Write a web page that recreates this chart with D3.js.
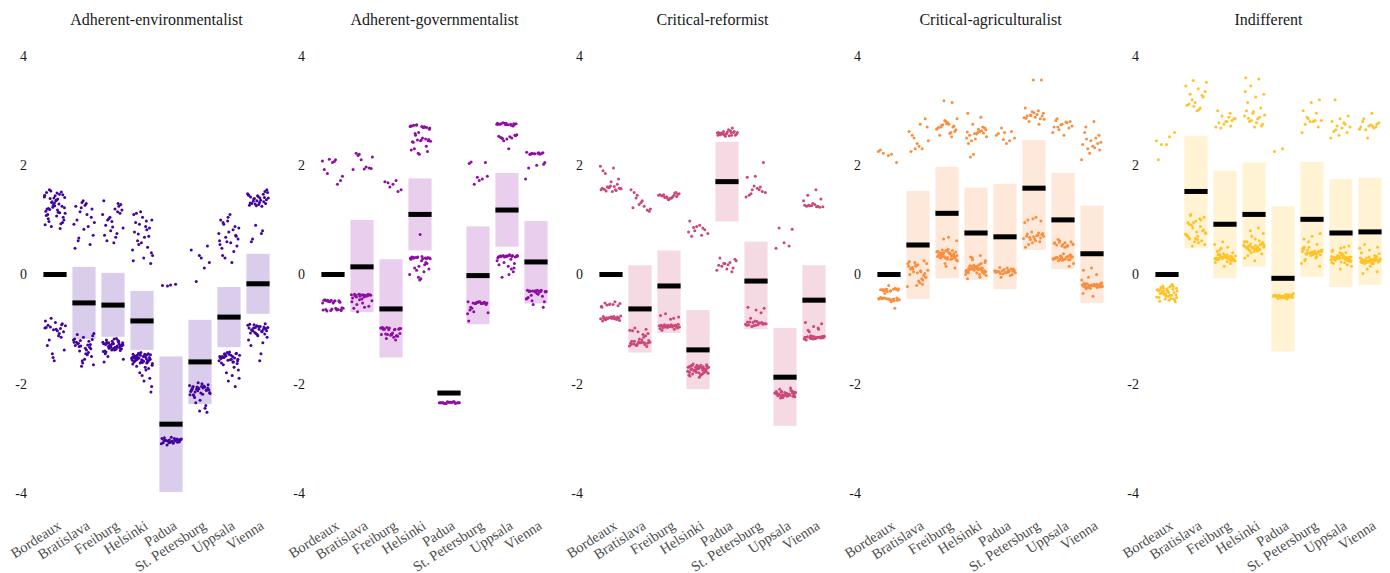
<!DOCTYPE html>
<html>
<head>
<meta charset="utf-8">
<script src="https://cdn.jsdelivr.net/npm/d3@7"></script>
<style>
  body { margin: 0; background: #fff; }
  svg text { font-family: "Liberation Serif", "Times New Roman", serif; }
</style>
</head>
<body>
<svg id="chart" width="1390" height="573"></svg>
<script>
/* DATA */
const panels = ["Adherent-environmentalist", "Adherent-governmentalist", "Critical-reformist", "Critical-agriculturalist", "Indifferent"];
const cities = ["Bordeaux", "Bratislava", "Freiburg", "Helsinki", "Padua", "St. Petersburg", "Uppsala", "Vienna"];
const yTicks = [-4, -2, 0, 2, 4];
const colors = ["#41049d", "#8f0da4", "#cc4778", "#f98e3f", "#fdc328"];

// means per city (Bordeaux is the reference)
const envMeans = [0, -0.52, -0.56, -0.85, -2.74, -1.6, -0.78, -0.17];
const envLow = [null, -1.18, -1.14, -1.38, -3.98, -2.37, -1.33, -0.72];
const envHigh = [null, 0.14, 0.03, -0.30, -1.5, -0.83, -0.23, 0.38];

const govMeans = [0, 0.14, -0.63, 1.1, -2.17, -0.02, 1.18, 0.23];
const govLow = [null, -0.69, -1.52, 0.44, -2.19, -0.91, 0.51, -0.53];
const govHigh = [null, 1.0, 0.28, 1.76, -2.15, 0.88, 1.86, 0.98];

const refMeans = [0, -0.63, -0.21, -1.38, 1.7, -0.12, -1.88, -0.47];
const refLow = [null, -1.43, -1.07, -2.1, 0.97, -1.0, -2.77, -1.2];
const refHigh = [null, 0.17, 0.44, -0.65, 2.43, 0.6, -0.98, 0.17];

const agrMeans = [0, 0.54, 1.12, 0.76, 0.69, 1.58, 1.0, 0.38];
const agrLow = [null, -0.45, -0.07, -0.1, -0.27, 0.45, 0.1, -0.52];
const agrHigh = [null, 1.53, 1.97, 1.59, 1.66, 2.46, 1.86, 1.26];

const indMeans = [0, 1.52, 0.92, 1.1, -0.07, 1.01, 0.76, 0.78];
const indLow = [null, 0.48, -0.07, 0.14, -1.41, -0.04, -0.23, -0.19];
const indHigh = [null, 2.54, 1.9, 2.05, 1.25, 2.06, 1.75, 1.77];

// individual scores, one array per city
const envPoints = [
  [1.42,1.18,1.55,0.95,1.31,1.08,1.47,0.88,1.22,1.36,1.02,1.51,1.27,0.91,1.14,1.39,1.05,1.44,1.2,0.84,1.33,1.12,1.49,0.97,1.25,1.4,1.16,1.29,1.53,1.0,1.35,1.1,0.93,1.23,1.45,
   1.38,1.19,1.46,1.26,1.5,1.13,1.32,1.41,1.07,1.21,
   -0.92,-1.01,-0.85,-1.12,-0.96,-1.05,-0.88,-1.3,-0.99,-1.45,-0.94,-1.03,-1.2,-0.9,-1.58,-0.97,-1.08,-0.8,-1.38,-1.0,-0.93,-1.15,-1.52,-0.98],
  [1.22,0.95,1.3,0.62,1.05,1.35,0.48,0.88,1.15,0.72,1.27,1.0,0.55,1.32,0.92,1.1,0.67,1.2,0.83,1.25,
   -1.22,-1.31,-1.08,-1.45,-1.27,-1.36,-1.62,-1.18,-1.29,-1.4,-1.12,-1.55,-1.24,-1.33,-1.68,-1.2,-1.38,-1.26,-1.5,-1.15,-1.3,-1.43,-1.21,-1.65,-1.35,-1.1,-1.28,-1.58,-1.24,-1.47,-1.32,-1.19],
  [1.3,1.05,0.85,1.2,0.62,1.12,0.97,1.35,0.75,1.02,1.18,0.58,0.9,1.25,0.8,1.1,0.68,1.0,1.28,0.87,0.72,1.15,
   -1.3,-1.25,-1.38,-1.2,-1.34,-1.28,-1.41,-1.17,-1.32,-1.36,-1.27,-1.45,-1.23,-1.3,-1.55,-1.33,-1.26,-1.39,-1.22,-1.6,-1.31,-1.35,-1.29,-1.18,-1.42,-1.27,-1.33,-1.24,-1.37,-1.5,-1.3,-1.26,-1.4,-1.21,-1.34,
   -1.29,-1.36,-1.24,-1.31,-1.38,-1.27,-1.33,-1.25,-1.3,-1.35,-1.28,-1.22],
  [1.1,0.82,0.55,1.0,0.3,0.95,0.7,1.15,0.45,0.88,0.62,0.2,1.05,0.78,0.5,0.92,0.35,0.68,1.12,0.85,0.58,0.25,0.98,0.74,0.4,
   -1.5,-1.58,-1.45,-1.62,-1.52,-1.7,-1.48,-1.55,-1.85,-1.6,-1.47,-1.53,-1.66,-1.95,-1.5,-1.57,-1.43,-1.64,-1.75,-1.52,-2.15,-1.58,-1.49,-1.6,-1.8,-1.54,-1.46,-1.68,-1.9,-1.56,-1.51,-1.62,-1.44,-2.05,-1.59,-1.53,-1.72,-1.48,-1.57,
   -1.5,-1.55,-1.47,-1.61,-1.53,-1.58,-1.45,-1.63,-1.49,-1.56,-1.52,-1.6,-1.46,-1.54],
  [-0.19,-0.2,-0.18,-0.21,
   -3.02,-3.05,-2.99,-3.07,-3.03,-3.1,-3.0,-3.04,-3.06,-2.98,-3.08,-3.02,-3.05,-3.01,-3.09,-3.04,-3.03,-3.07,-3.0,-3.05,-3.12,-3.02,-3.06,-3.04,-3.01,-3.08],
  [0.52,0.35,0.45,0.12,-0.13,0.22,0.3,
   -2.05,-2.12,-1.98,-2.2,-2.08,-2.15,-2.02,-2.3,-2.1,-2.45,-2.06,-2.18,-2.0,-2.22,-2.52,-2.09,-2.14,-2.04,-2.35,-2.11,-2.17,-2.07,-2.4,-2.13,-2.03,-2.19,-2.25,-2.08,-2.5,-2.12,-2.06,
   -2.1,-2.16,-2.05,-2.2,-2.12,-2.08],
  [0.95,0.7,1.05,0.55,0.82,0.3,0.65,1.1,0.48,0.88,0.6,0.75,0.22,0.92,0.52,0.78,1.0,0.42,0.68,0.85,0.58,0.35,0.72,0.98,0.62,
   -1.5,-1.45,-1.58,-1.42,-1.62,-1.53,-1.8,-1.48,-1.55,-1.65,-1.44,-1.95,-1.52,-1.6,-1.47,-1.75,-1.56,-1.5,-2.05,-1.43,-1.58,-1.85,-1.52,-1.63,-1.46,-1.54,-1.7,-1.49,-1.9,
   -1.48,-1.52,-1.45,-1.57,-1.5,-1.6,-1.47,-1.55],
  [1.4,1.3,1.52,1.35,1.45,1.25,1.38,1.55,1.28,1.42,1.33,0.9,1.48,1.36,0.65,1.3,1.44,1.27,0.8,1.39,1.5,1.32,0.6,1.41,1.26,1.46,0.75,1.34,
   1.37,1.43,1.31,1.47,1.29,1.4,
   -0.95,-1.02,-0.9,-1.1,-0.98,-1.05,-0.92,-1.15,-1.0,-1.3,-0.96,-1.08,-0.93,-1.45,-1.03,-0.99,-1.12,-0.91,-1.25,-1.06,-0.97,-1.58,-1.01,-1.09,-0.94,-1.2,-1.04,
   -0.98,-1.03,-0.95,-1.07,-1.0,-0.97]
];

const govPoints = [
  [2.08,2.1,1.85,1.72,2.05,1.92,1.65,2.11,1.8,2.07,
   -0.48,-0.5,-0.47,-0.65,-0.63,-0.49,-0.66,-0.52,-0.46,-0.64,-0.5,-0.62,-0.48,-0.67,-0.51,-0.63,-0.47,-0.65,-0.49,-0.61,-0.5,-0.64,-0.48,-0.66,-0.52,-0.62,-0.47,-0.65],
  [2.2,2.15,1.93,2.22,1.95,2.1,1.92,1.97,2.18,1.94,
   -0.37,-0.39,-0.36,-0.4,-0.5,-0.38,-0.55,-0.37,-0.45,-0.62,-0.39,-0.36,-0.48,-0.41,-0.38,-0.58,-0.37,-0.43,-0.4,-0.68,-0.38,-0.52,-0.36,-0.39,-0.46,-0.37,-0.6,-0.41],
  [1.72,1.68,1.55,1.65,1.7,1.52,1.6,
   -0.98,-1.0,-0.97,-1.08,-1.1,-0.99,-1.12,-1.01,-0.98,-1.15,-1.09,-1.0,-1.11,-0.97,-1.2,-1.1,-0.99,-1.07,-1.0,-1.13,-0.98,-1.1,-1.01,-1.17,-0.99,-1.09,-1.0,-1.12],
  [2.72,2.7,2.74,2.68,2.71,2.73,2.69,2.6,2.72,2.7,2.55,2.47,2.45,2.43,2.48,2.46,2.44,2.5,2.3,2.25,2.2,2.28,2.7,2.73,2.66,2.46,2.42,2.35,2.22,2.71,2.69,2.58,2.45,0.73,
   0.32,0.3,0.31,0.29,0.33,0.3,0.2,0.15,0.28,0.05,0.31,0.1,-0.08,0.3,0.22,0.32,0.0,0.29,0.12,0.31,-0.1,0.3,0.18,0.08,0.3,0.25,0.31,0.29,-0.05,0.3],
  [-2.34,-2.35,-2.33,-2.36,-2.35,-2.34,-2.35,-2.36,-2.33,-2.35,-2.34,-2.36,-2.35,-2.34,-2.35,-2.33,-2.36,-2.35,-2.34,-2.35],
  [2.05,1.78,2.03,1.75,1.65,1.8,1.72,2.06,
   -0.51,-0.52,-0.5,-0.53,-0.52,-0.55,-0.51,-0.65,-0.52,-0.53,-0.7,-0.5,-0.62,-0.52,-0.51,-0.85,-0.53,-0.68,-0.52,-0.5,-0.6,-0.52,-0.53,-0.72],
  [2.76,2.74,2.77,2.75,2.73,2.78,2.76,2.74,2.75,2.72,2.77,2.75,2.52,2.5,2.55,2.48,2.53,2.5,2.45,2.56,2.3,2.51,2.76,2.74,2.77,2.75,2.49,2.54,
   0.34,0.33,0.35,0.32,0.34,0.36,0.33,0.2,0.34,0.32,0.1,0.35,0.33,0.15,0.34,0.05,0.33,0.25,0.35,-0.05,0.32,0.34,0.18,0.33,0.22,0.35,0.0,0.34,0.12,0.33,0.3,0.28],
  [2.22,2.2,2.23,2.21,2.24,2.2,2.22,2.05,2.0,1.95,2.22,2.21,1.75,2.23,2.2,2.02,
   -0.3,-0.29,-0.31,-0.3,-0.32,-0.29,-0.31,-0.4,-0.3,-0.45,-0.32,-0.38,-0.5,-0.3,-0.42,-0.29,-0.55,-0.31,-0.36,-0.3,-0.6,-0.32,-0.44,-0.3,-0.48,-0.31,-0.35,-0.3]
];

const refPoints = [
  [1.98,1.95,1.85,1.75,1.62,1.58,1.55,1.6,1.57,1.52,1.56,1.65,1.59,1.55,1.61,1.53,1.58,1.7,1.9,1.54,1.6,1.57,
   -0.55,-0.52,-0.57,-0.54,-0.6,-0.5,-0.56,-0.53,-0.78,-0.8,-0.82,-0.79,-0.81,-0.77,-0.83,-0.8,-0.78,-0.85,-0.79,-0.81,-0.76,-0.8,-0.82,-0.78,-0.55,-0.58,-0.81,-0.79,-0.84,-0.8,-0.77,-0.82],
  [1.45,1.2,1.35,1.5,1.18,1.28,1.55,1.25,1.4,1.16,1.32,1.22,
   -1.0,-1.05,-1.02,-1.1,-0.98,-1.08,-1.25,-1.22,-1.28,-1.3,-1.24,-1.2,-1.27,-1.32,-1.23,-1.26,-1.15,-1.29,-1.21,-1.25,-1.03,-1.12,-1.27,-1.31,-1.24,-1.22,-1.26,-1.18,-1.28,-1.25],
  [1.45,1.42,1.48,1.4,1.44,1.5,1.38,1.46,1.43,1.41,1.47,1.39,1.44,1.49,1.42,1.45,1.4,1.46,1.43,1.37,
   -0.75,-0.8,-0.72,-0.78,-0.82,-0.95,-0.93,-0.97,-0.94,-0.96,-0.92,-0.98,-0.95,-0.93,-1.0,-0.94,-0.96,-0.92,-0.97,-0.95,-0.93,-0.99,-0.94,-0.96,-0.91,-0.95,-1.02,-0.94],
  [0.98,0.85,0.8,0.75,0.9,0.7,0.82,0.88,0.78,0.72,0.86,
   -1.65,-1.72,-1.68,-1.8,-1.75,-1.7,-1.85,-1.66,-1.78,-1.73,-1.69,-1.82,-1.76,-1.71,-1.88,-1.67,-1.74,-1.79,-1.7,-1.83,-1.64,-1.77,-1.72,-1.86,-1.69,-1.75,-1.81,-1.7,-1.73,-1.78,-1.66,-1.84,-1.71,-1.76,-1.68,-1.8,-1.74,-1.72,
   -1.7,-1.77,-1.66,-1.82,-1.73,-1.68,-1.79,-1.75],
  [2.58,2.6,2.55,2.62,2.57,2.65,2.56,2.6,2.53,2.59,2.63,2.57,2.55,2.61,2.58,2.68,2.56,2.6,2.54,2.59,2.62,2.57,2.55,2.6,2.58,
   0.25,0.18,0.3,0.12,0.2,0.08,0.22,0.15,0.28,0.1,0.17,0.05,0.2],
  [2.05,1.8,1.78,1.6,1.55,1.5,1.58,1.45,1.52,1.62,1.42,1.55,1.48,
   -0.62,-0.65,-0.6,-0.7,-0.88,-0.9,-0.92,-0.87,-0.91,-0.85,-0.93,-0.89,-0.95,-0.9,-0.86,-0.92,-0.88,-0.94,-0.91,-0.89,-0.8,-0.9,-0.93,-0.87],
  [0.85,0.83,0.58,0.48,0.52,
   -2.15,-2.2,-2.18,-2.22,-2.12,-2.25,-2.17,-2.2,-2.1,-2.23,-2.16,-2.19,-2.21,-2.14,-2.24,-2.18,-2.2,-2.13,-2.22,-2.17,-2.19,-2.26,-2.15,-2.21,-2.18,-2.08,-2.2,-2.16,-2.23,-2.19,
   -2.17,-2.21,-2.14,-2.19,-2.23,-2.16],
  [1.55,1.45,1.38,1.3,1.27,1.25,1.26,1.24,1.28,1.25,1.23,1.26,1.35,1.24,1.27,
   -0.9,-0.95,-0.88,-1.0,-1.12,-1.15,-1.17,-1.14,-1.16,-1.13,-1.18,-1.15,-1.05,-1.16,-1.14,-1.2,-1.15,-1.17,-1.13,-1.16,-1.02,-1.14,-1.18,-1.15,-0.98,-1.16,-1.13,-1.17]
];

const agrPoints = [
  [2.25,2.2,2.22,2.05,2.18,2.28,
   -0.27,-0.29,-0.26,-0.3,-0.28,-0.25,-0.31,-0.44,-0.46,-0.43,-0.47,-0.45,-0.42,-0.48,-0.44,-0.46,-0.5,-0.28,-0.27,-0.45,-0.43,-0.47,-0.35,-0.29,-0.46,-0.44,-0.62,-0.27,-0.45,-0.48,-0.3,-0.43,-0.2,
   -0.28,-0.45,-0.27,-0.46,-0.3,-0.44],
  [2.3,2.45,2.75,2.55,2.85,2.4,2.62,2.3,2.5,2.7,2.35,2.25,
   0.25,0.15,0.2,0.05,0.1,-0.05,0.18,0.0,-0.1,0.22,0.08,-0.15,0.12,0.02,-0.2,0.15,-0.08,0.05,0.2,-0.12,0.1,-0.02,0.17,-0.22,0.07,0.13,-0.05,0.03,0.24,-0.18],
  [3.15,3.18,2.85,2.75,2.7,2.72,2.8,2.68,2.6,2.74,2.65,2.78,2.55,2.7,2.82,2.66,2.58,2.73,2.62,2.76,2.69,2.52,
   0.65,0.62,0.68,0.4,0.35,0.3,0.42,0.38,0.45,0.32,0.28,0.36,0.44,0.33,0.25,0.4,0.37,0.3,0.15,0.42,0.34,0.39,0.27,0.46,0.31,0.35,0.2,0.41,0.38,0.33,0.12,0.43,0.36,0.29,0.4,
   0.35,0.4,0.3,0.38,0.44,0.33,0.28,0.36,0.41,0.31],
  [2.95,2.88,2.75,2.65,2.6,2.55,2.7,2.58,2.5,2.62,2.45,2.68,2.57,2.4,2.63,2.2,2.52,2.66,2.15,2.59,2.48,2.61,
   0.35,0.3,0.25,0.15,0.1,0.12,0.08,0.05,0.18,0.1,0.02,0.14,0.06,0.2,0.11,-0.02,0.09,0.16,0.04,0.13,0.07,-0.05,0.1,0.22,0.03,0.12,0.08,0.17,0.0,0.11,0.32,0.06,0.14,-0.08,0.09,0.27,0.05,0.1,
   0.1,0.05,0.13,0.08,0.0,0.15,0.07,0.11,0.03,0.12],
  [2.6,2.55,2.45,2.68,2.5,2.4,2.58,2.62,2.47,
   0.05,0.08,0.02,0.1,0.04,0.06,-0.02,0.07,0.03,0.12,0.05,0.0,0.09,0.04,0.06,-0.05,0.08,0.03,0.05,0.1,0.01,0.07,0.04,0.13,0.06],
  [3.56,3.56,3.05,3.0,2.92,2.95,2.88,2.9,2.85,2.98,2.87,2.93,2.8,2.9,2.96,2.86,2.75,2.91,2.84,
   1.05,1.0,0.98,1.02,0.95,0.72,0.68,0.75,0.65,0.7,0.6,0.78,0.66,0.71,0.55,0.73,0.69,0.5,0.76,0.64,0.7,0.62,0.74,0.67,0.58],
  [2.85,2.8,2.75,2.7,2.78,2.65,2.72,2.55,2.82,2.68,2.74,2.6,2.79,2.7,
   0.6,0.55,0.58,0.52,0.62,0.56,0.5,0.54,0.35,0.3,0.28,0.32,0.25,0.33,0.38,0.3,0.27,0.34,0.2,0.29,0.31,0.36,0.26,0.57,0.53,0.59,0.32,0.28,0.3,0.15,0.33,0.29,0.51,0.64,0.31,0.27,
   0.3,0.33,0.28,0.55,0.58,0.31,0.27,0.52],
  [2.8,2.7,2.55,2.45,2.38,2.5,2.3,2.42,2.35,2.6,2.4,2.22,2.1,2.32,2.48,2.28,
   0.12,0.08,0.0,-0.05,-0.15,-0.2,-0.18,-0.22,-0.25,-0.19,-0.21,-0.17,-0.23,-0.2,-0.16,-0.24,-0.2,-0.22,-0.18,-0.26,-0.21,-0.19,-0.35,-0.2,-0.23,-0.17,-0.4,-0.21,-0.19,-0.22,-0.1,-0.2,-0.24,-0.18,
   -0.2,-0.22,-0.18,-0.24,-0.21,-0.19,-0.23,-0.2]
];

const indPoints = [
  [2.45,2.52,2.38,2.6,2.38,2.1,
   -0.2,-0.3,-0.25,-0.4,-0.35,-0.22,-0.45,-0.28,-0.38,-0.32,-0.5,-0.26,-0.42,-0.18,-0.36,-0.3,-0.47,-0.24,-0.33,-0.4,-0.28,-0.44,-0.21,-0.37,-0.31,-0.49,-0.27,-0.35,-0.41,-0.23,-0.34,-0.46,-0.29,
   -0.3,-0.38,-0.25,-0.42,-0.33,-0.28,-0.45,-0.36],
  [3.55,3.52,3.4,3.3,3.25,3.15,3.1,3.05,3.2,3.35,3.0,3.12,3.28,3.08,3.45,3.02,
   1.1,1.05,0.98,0.95,1.0,0.85,0.75,0.7,0.65,0.8,0.6,0.72,1.02,0.9,0.55,0.78,0.68,0.62,0.95,0.74,0.58,1.08,0.82,0.66,0.71,0.88,0.52,0.77,0.64,0.92],
  [2.95,2.9,2.85,2.8,2.78,2.82,2.75,2.7,2.88,2.68,2.85,2.8,3.0,2.72,
   0.6,0.55,0.5,0.45,0.4,0.35,0.3,0.28,0.32,0.25,0.3,0.27,0.33,0.38,0.22,0.3,0.35,0.26,0.31,0.42,0.2,0.29,0.34,0.24,0.37,0.3,0.15,0.28,0.32,0.48,0.27,0.33,0.36,0.25,0.31,0.29,
   0.3,0.32,0.28,0.35,0.27,0.33,0.3,0.25,0.36,0.29],
  [3.6,3.58,3.45,3.3,3.25,3.15,3.05,2.95,2.9,2.85,2.8,2.75,2.7,3.0,2.88,2.82,2.92,2.78,2.86,2.72,2.98,3.35,
   0.85,0.8,0.75,0.65,0.6,0.55,0.5,0.52,0.48,0.45,0.58,0.42,0.5,0.62,0.4,0.53,0.47,0.35,0.55,0.49,0.3,0.51,0.44,0.57,0.25,0.5,0.46,0.7,0.54,0.43,0.52,0.38,0.48,0.6,0.45,0.56,
   0.5,0.53,0.47,0.55,0.49,0.6,0.44,0.52,0.58,0.46],
  [2.3,2.25,
   -0.4,-0.38,-0.42,-0.39,-0.41,-0.37,-0.43,-0.4,-0.36,-0.44,-0.39,-0.41,-0.38,-0.42,-0.4,-0.35,-0.43,-0.39,-0.41,-0.4,-0.38,-0.45,-0.4,-0.37,-0.42],
  [3.2,3.15,3.0,2.95,2.85,2.82,2.8,2.75,2.7,2.8,2.6,2.82,2.88,
   0.75,0.7,0.65,0.55,0.5,0.45,0.4,0.38,0.42,0.35,0.48,0.3,0.4,0.44,0.36,0.25,0.41,0.39,0.2,0.43,0.37,0.15,0.4,0.46,0.33,0.6,0.42,0.38,0.28,0.41,
   0.4,0.42,0.38,0.45,0.36,0.41,0.5,0.39],
  [3.2,2.9,2.85,2.8,2.75,2.72,2.7,2.68,2.62,2.6,2.55,2.5,2.78,2.65,
   0.52,0.48,0.45,0.4,0.35,0.32,0.3,0.28,0.25,0.3,0.33,0.22,0.3,0.27,0.36,0.2,0.31,0.29,0.15,0.34,0.26,0.3,0.1,0.42,0.28,0.32,0.24,0.38,0.3,0.18,0.33,0.27,0.5,0.29,0.31,0.23,
   0.3,0.28,0.33,0.25,0.35,0.31,0.27,0.4,0.22,0.32],
  [2.95,2.85,2.75,2.72,2.7,2.68,2.65,2.78,2.74,2.8,2.7,2.5,2.66,2.72,
   0.55,0.5,0.45,0.4,0.35,0.3,0.25,0.28,0.22,0.27,0.24,0.3,0.2,0.26,0.23,0.15,0.28,0.25,0.1,0.29,0.21,0.26,0.05,0.32,0.24,0.27,0.22,0.38,0.25,0.02,0.3,0.23,0.48,0.26,0.2,
   0.25,0.27,0.22,0.3,0.24,0.28,0.2,0.26,0.33,0.23]
];

const allMeans = [envMeans, govMeans, refMeans, agrMeans, indMeans];
const allLow = [envLow, govLow, refLow, agrLow, indLow];
const allHigh = [envHigh, govHigh, refHigh, agrHigh, indHigh];
const allPoints = [envPoints, govPoints, refPoints, agrPoints, indPoints];

/* DRAWING */
const svg = d3.select("#chart");
const panelWidth = 278;

const x = d3.scaleBand()
  .domain(cities)
  .range([37.6, 275.4])
  .padding(0.2);

const y = d3.scaleLinear()
  .domain([-4, 4])
  .range([493, 56]);

const bw = x.bandwidth();

// spreads points across the band without randomness
function jitter(i, c) {
  let f = (i * 0.6180339887 + c * 0.37) % 1;
  return (f - 0.5) * (bw - 2);
}

panels.forEach(function(name, p) {
  let g = svg.append("g").attr("transform", "translate(" + (p * panelWidth) + ",0)");
  let color = colors[p];

  g.append("text")
    .attr("x", (x.range()[0] + x.range()[1]) / 2)
    .attr("y", 25)
    .attr("text-anchor", "middle")
    .style("font-size", "16px")
    .style("fill", "#1a1a1a")
    .text(name);

  // y axis labels only
  let yAxis = g.append("g")
    .attr("transform", "translate(27,0)")
    .call(d3.axisLeft(y).tickValues(yTicks).tickSize(0).tickPadding(0).tickFormat(d => String(d)));
  yAxis.select(".domain").remove();
  yAxis.selectAll("text")
    .style("font-size", "14px")
    .style("font-family", "'Liberation Serif', serif")
    .style("fill", "#1a1a1a");

  // x axis labels, tilted
  let xAxis = g.append("g")
    .attr("transform", "translate(0,515)")
    .call(d3.axisBottom(x).tickSize(0));
  xAxis.select(".domain").remove();
  xAxis.selectAll("text")
    .attr("x", 0).attr("y", 0).attr("dy", 0)
    .attr("text-anchor", "end")
    .attr("transform", "translate(7,13) rotate(-33)")
    .style("font-size", "14.5px")
    .style("font-family", "'Liberation Serif', serif")
    .style("fill", "#4d4d4d");

  // interval boxes
  cities.forEach(function(city, c) {
    let lo = allLow[p][c], hi = allHigh[p][c];
    if (lo === null) return;
    g.append("rect")
      .attr("x", x(city))
      .attr("y", y(hi))
      .attr("width", bw)
      .attr("height", y(lo) - y(hi))
      .style("fill", color)
      .style("fill-opacity", 0.2);
  });

  // points
  cities.forEach(function(city, c) {
    let pts = allPoints[p][c];
    g.selectAll(null)
      .data(pts)
      .enter()
      .append("circle")
      .attr("cx", (d, i) => x(city) + bw / 2 + jitter(i, c))
      .attr("cy", d => y(d))
      .attr("r", 1.5)
      .style("fill", color);
  });

  // means
  g.selectAll(null)
    .data(cities)
    .enter()
    .append("rect")
    .attr("x", d => x(d))
    .attr("y", (d, c) => y(allMeans[p][c]) - 2.5)
    .attr("width", bw)
    .attr("height", 5)
    .style("fill", "#000");
});
</script>
</body>
</html>
